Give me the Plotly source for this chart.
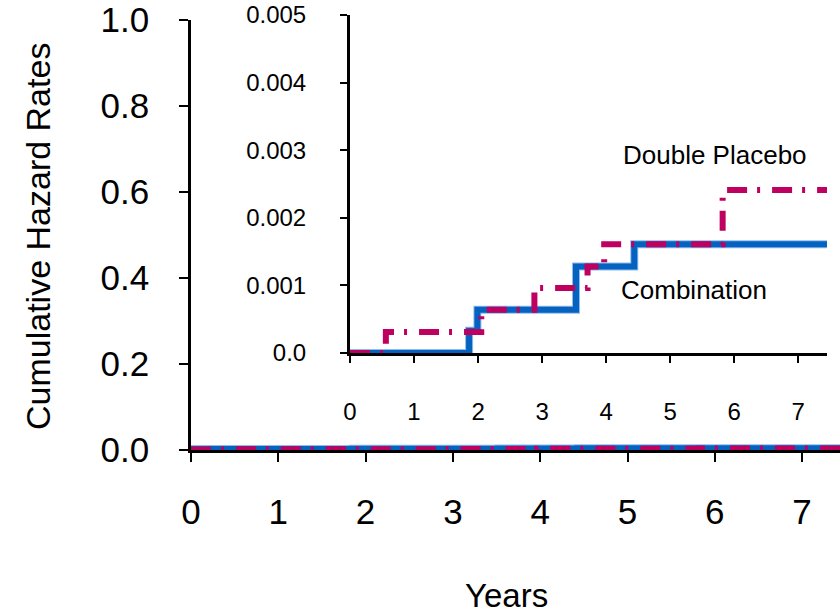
import plotly.graph_objects as go

# ---- data ----
comb_years = [0, 1.86, 1.99, 3.53, 4.44, 7.45]
comb_hazard = [0, 0.00033, 0.00064, 0.00128, 0.00161, 0.00161]
plac_years = [0, 0.56, 2.05, 2.88, 3.71, 3.97, 5.82, 7.45]
plac_hazard = [0, 0.00031, 0.00064, 0.00096, 0.00128, 0.00161, 0.00241, 0.00241]

main_x_ticks = [0, 1, 2, 3, 4, 5, 6, 7]
main_y_ticks = [0.0, 0.2, 0.4, 0.6, 0.8, 1.0]
main_y_labels = ["0.0", "0.2", "0.4", "0.6", "0.8", "1.0"]
inset_x_ticks = [0, 1, 2, 3, 4, 5, 6, 7]
inset_y_ticks = [0.0, 0.001, 0.002, 0.003, 0.004, 0.005]
inset_y_labels = ["0.0", "0.001", "0.002", "0.003", "0.004", "0.005"]

BLUE = "#0562C0"
BLUE_EDGE = "#8FBCEB"
MAGENTA = "#BE0060"
FONT = "Liberation Sans, Arial, sans-serif"
W, H = 840, 615
DASH = "20px,10px,3px,12px"


def px_x(p):
    return p / W


def px_y(p):
    return (H - p) / H


main_dom_x = [px_x(191), 1.0]
main_dom_y = [px_y(450), px_y(20)]
inset_dom_x = [px_x(350), px_x(827)]
inset_dom_y = [px_y(353), px_y(15)]
main_xr = [0, (840 - 191) / 87.3]
inset_xr = [0, 7.45]

fig = go.Figure()

# main plot, Combination (drawn under the axis line)
fig.add_trace(go.Scatter(x=comb_years, y=comb_hazard, mode="lines", line_shape="hv",
                         line=dict(color=BLUE_EDGE, width=10), xaxis="x", yaxis="y",
                         showlegend=False, hoverinfo="skip"))
fig.add_trace(go.Scatter(x=comb_years, y=comb_hazard, mode="lines", line_shape="hv",
                         line=dict(color=BLUE, width=8), xaxis="x", yaxis="y",
                         showlegend=False, hoverinfo="skip"))
# inset, Combination
fig.add_trace(go.Scatter(x=comb_years, y=comb_hazard, mode="lines", line_shape="hv",
                         line=dict(color=BLUE_EDGE, width=8), xaxis="x2", yaxis="y2",
                         showlegend=False, hoverinfo="skip"))
fig.add_trace(go.Scatter(x=comb_years, y=comb_hazard, mode="lines", line_shape="hv",
                         line=dict(color=BLUE, width=6), xaxis="x2", yaxis="y2",
                         showlegend=False, hoverinfo="skip"))
# main plot, Double Placebo (above the axis line)
fig.add_trace(go.Scatter(x=plac_years, y=plac_hazard, mode="lines", line_shape="hv",
                         line=dict(color=MAGENTA, width=7, dash=DASH), xaxis="x3", yaxis="y3",
                         showlegend=False, hoverinfo="skip"))
# inset, Double Placebo
fig.add_trace(go.Scatter(x=plac_years, y=plac_hazard, mode="lines", line_shape="hv",
                         line=dict(color=MAGENTA, width=6, dash=DASH), xaxis="x4", yaxis="y4",
                         showlegend=False, hoverinfo="skip"))

hidden = dict(visible=True, showline=False, showgrid=False, zeroline=False,
              showticklabels=False, ticks="", fixedrange=True, automargin=False)

fig.update_layout(
    width=W, height=H,
    margin=dict(l=0, r=0, t=0, b=0, pad=0),
    paper_bgcolor="white", plot_bgcolor="rgba(0,0,0,0)",
    font=dict(family=FONT, color="black"),
    xaxis=dict(domain=main_dom_x, range=main_xr, anchor="y", automargin=False,
               showline=True, linecolor="black", linewidth=3,
               ticks="outside", ticklen=9, tickwidth=2, tickcolor="black",
               tickvals=main_x_ticks, ticktext=[str(v) for v in main_x_ticks],
               tickfont=dict(size=35, family=FONT), ticklabelstandoff=20,
               ticklabeloverflow="allow", showgrid=False, zeroline=False),
    yaxis=dict(domain=main_dom_y, range=[0, 1.0001], anchor="x", automargin=False,
               showline=True, linecolor="black", linewidth=2.5,
               ticks="outside", ticklen=9, tickwidth=2, tickcolor="black",
               tickvals=main_y_ticks, ticktext=main_y_labels,
               tickfont=dict(size=35, family=FONT), ticklabelstandoff=23,
               ticklabeloverflow="allow", showgrid=False, zeroline=False),
    xaxis2=dict(domain=inset_dom_x, range=inset_xr, anchor="y2", automargin=False,
                showline=True, linecolor="black", linewidth=3,
                ticks="outside", ticklen=7, tickwidth=2, tickcolor="black",
                tickvals=inset_x_ticks, ticktext=[str(v) for v in inset_x_ticks],
                tickfont=dict(size=24, family=FONT), ticklabelstandoff=28,
                ticklabeloverflow="allow", showgrid=False, zeroline=False),
    yaxis2=dict(domain=inset_dom_y, range=[0, 0.0050001], anchor="x2", automargin=False,
                showline=True, linecolor="black", linewidth=3,
                ticks="outside", ticklen=7, tickwidth=2, tickcolor="black",
                tickvals=inset_y_ticks, ticktext=inset_y_labels,
                tickfont=dict(size=24, family=FONT), ticklabelstandoff=29,
                ticklabeloverflow="allow", showgrid=False, zeroline=False),
    xaxis3=dict(domain=main_dom_x, range=main_xr, anchor="y3", **hidden),
    yaxis3=dict(domain=main_dom_y, range=[0, 1.0001], anchor="x3", **hidden),
    xaxis4=dict(domain=inset_dom_x, range=inset_xr, anchor="y4", **hidden),
    yaxis4=dict(domain=inset_dom_y, range=[0, 0.0050001], anchor="x4", **hidden),
    annotations=[
        dict(text="Cumulative Hazard Rates", xref="paper", yref="paper",
             x=px_x(38), y=px_y(237), textangle=-90, showarrow=False,
             xanchor="center", yanchor="middle", font=dict(size=34, family=FONT)),
        dict(text="Years", xref="paper", yref="paper",
             x=px_x(507), y=px_y(595), showarrow=False,
             xanchor="center", yanchor="middle", font=dict(size=33, family=FONT)),
        dict(text="Double Placebo", xref="paper", yref="paper",
             x=px_x(715), y=px_y(155), showarrow=False,
             xanchor="center", yanchor="middle", font=dict(size=26, family=FONT)),
        dict(text="Combination", xref="paper", yref="paper",
             x=px_x(694), y=px_y(290), showarrow=False,
             xanchor="center", yanchor="middle", font=dict(size=26, family=FONT)),
    ],
)

fig.write_html("out.html")
